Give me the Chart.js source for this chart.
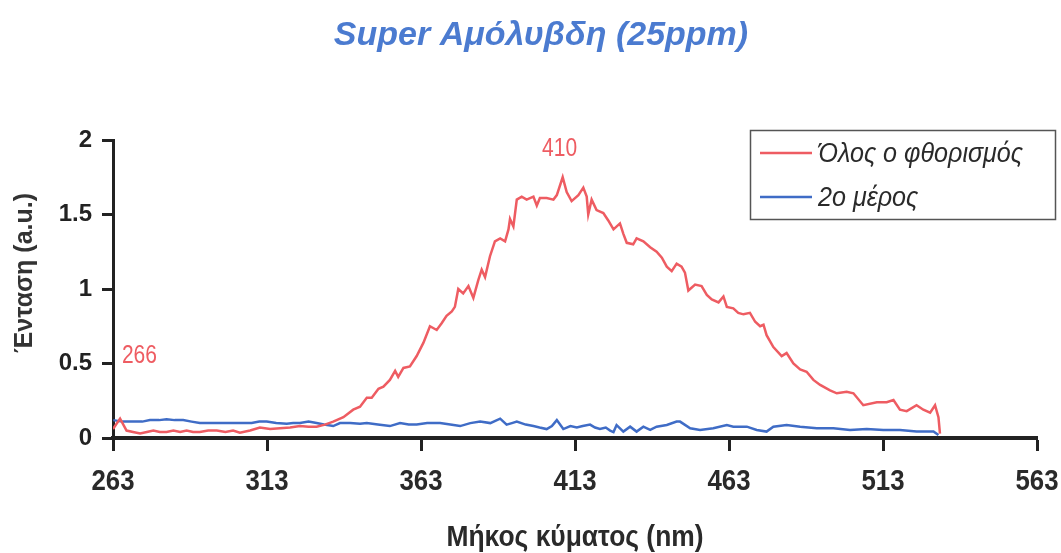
<!DOCTYPE html>
<html><head><meta charset="utf-8">
<script src="https://cdn.jsdelivr.net/npm/chart.js@4"></script>
<style>html,body{margin:0;padding:0;background:#fff}#wrap{width:1061px;height:553px}</style>
</head><body><div id="wrap"><canvas id="c" width="1061" height="553"></canvas></div>
<script>
const titleText = "Super Αμόλυβδη (25ppm)";
const xTitle = "Μήκος κύματος (nm)";
const yTitle = "Ένταση (a.u.)";
const seriesNames = ["Όλος ο φθορισμός", "2ο μέρος"];
const xTicks = [263, 313, 363, 413, 463, 513, 563];
const peakLabels = [{text: "410", x: 408, y: 1.94}, {text: "266", x: 265.9, y: 0.55}];

const fullWl = [263.0,265.3,267.4,269.5,271.8,274.0,276.1,278.2,280.4,282.6,284.8,286.9,289.0,291.2,293.9,296.7,299.5,302.0,304.2,307.5,310.7,314.0,317.2,320.5,323.7,326.5,329.1,331.8,334.5,337.8,341.0,343.2,345.4,347.0,349.2,350.8,352.9,354.6,355.6,357.3,359.4,361.6,363.8,365.9,368.1,369.7,371.3,373.0,374.0,375.1,376.7,378.4,380.0,381.6,382.7,383.8,385.4,387.0,388.7,390.3,391.4,391.9,393.0,394.1,395.7,397.3,399.5,400.6,401.6,403.8,406.0,407.1,409.0,410.3,411.9,414.1,415.7,416.8,417.3,418.4,420.0,422.2,423.8,425.5,427.6,428.7,429.8,431.9,433.0,435.2,437.4,439.5,441.2,442.8,444.4,446.0,447.6,448.7,449.8,452.0,454.1,455.8,457.4,459.6,461.2,462.3,464.4,466.0,467.7,469.8,471.5,473.1,474.2,475.2,477.4,480.1,481.7,483.9,486.1,488.2,490.4,492.6,495.8,498.0,501.2,503.4,506.6,511.0,514.2,516.4,518.5,520.7,523.9,526.1,528.3,529.9,531.0,531.5];
const fullFluor = [0.06,0.13,0.05,0.04,0.03,0.04,0.05,0.04,0.04,0.05,0.04,0.05,0.04,0.04,0.05,0.05,0.04,0.05,0.035,0.05,0.07,0.06,0.065,0.07,0.08,0.075,0.075,0.09,0.11,0.14,0.19,0.21,0.27,0.27,0.33,0.345,0.39,0.45,0.41,0.47,0.48,0.55,0.64,0.75,0.725,0.77,0.82,0.85,0.88,1.00,0.97,1.02,0.94,1.06,1.13,1.08,1.22,1.32,1.34,1.32,1.40,1.47,1.42,1.60,1.62,1.60,1.62,1.56,1.61,1.61,1.60,1.63,1.75,1.65,1.59,1.63,1.68,1.62,1.50,1.60,1.53,1.51,1.46,1.40,1.44,1.37,1.31,1.30,1.34,1.32,1.28,1.25,1.21,1.15,1.12,1.17,1.15,1.11,0.99,1.03,1.02,0.96,0.93,0.91,0.95,0.88,0.87,0.84,0.83,0.84,0.78,0.75,0.76,0.69,0.61,0.55,0.57,0.50,0.46,0.445,0.39,0.356,0.32,0.30,0.31,0.30,0.22,0.24,0.24,0.255,0.19,0.18,0.22,0.19,0.17,0.22,0.14,0.03];

const partWl = [263.1,266.0,269.6,272.5,275.0,278.0,280.4,283.0,285.8,288.5,291.2,294.0,297.0,299.5,302.1,305.0,308.0,310.5,312.9,316.0,319.4,321.5,323.7,326.5,329.1,331.5,334.5,336.7,340.0,343.2,345.4,349.0,352.9,356.2,359.0,361.6,365.0,369.2,372.5,375.7,379.0,382.2,385.5,388.7,390.8,392.5,394.1,397.0,399.5,401.5,403.8,405.5,407.1,409.2,411.5,413.6,415.5,417.9,419.5,421.1,423.0,424.4,425.5,426.5,428.7,430.9,433.0,435.2,437.4,439.5,442.8,446.0,447.1,450.4,453.6,457.9,462.3,464.4,468.8,472.0,475.2,477.4,481.7,486.1,491.5,496.9,502.3,507.7,513.1,518.5,523.9,529.4,531.0];
const secondPart = [0.12,0.11,0.11,0.11,0.12,0.12,0.125,0.12,0.12,0.11,0.10,0.10,0.10,0.10,0.10,0.10,0.10,0.11,0.11,0.10,0.095,0.10,0.10,0.11,0.10,0.09,0.08,0.10,0.10,0.095,0.10,0.09,0.08,0.10,0.09,0.09,0.10,0.10,0.09,0.08,0.10,0.11,0.10,0.13,0.09,0.10,0.11,0.09,0.08,0.07,0.06,0.08,0.12,0.06,0.08,0.07,0.08,0.09,0.07,0.06,0.07,0.05,0.04,0.087,0.043,0.076,0.043,0.076,0.054,0.076,0.087,0.11,0.11,0.065,0.054,0.065,0.087,0.076,0.076,0.054,0.043,0.076,0.087,0.076,0.065,0.065,0.054,0.06,0.054,0.054,0.043,0.043,0.02];

const RED = '#ee5c62', BLUE = '#3f6cc6';
const SANS = '"Liberation Sans", Arial, sans-serif';

function squeezed(ctx, text, x, y, sx, align) {
  ctx.save();
  ctx.translate(x, y);
  ctx.scale(sx, 1);
  ctx.textAlign = align || 'center';
  ctx.fillText(text, 0, 0);
  ctx.restore();
}

const overlay = {
  id: 'overlay',
  afterDraw(chart) {
    const ctx = chart.ctx, ca = chart.chartArea, xs = chart.scales.x, ys = chart.scales.y;
    ctx.save();
    ctx.textBaseline = 'middle';
    ctx.fillStyle = '#4b7bd0';
    ctx.font = 'italic bold 34px ' + SANS;
    ctx.textAlign = 'center';
    ctx.fillText(titleText, 541, 36);
    ctx.fillStyle = '#2a2a2a';
    ctx.font = 'bold 30px ' + SANS;
    xTicks.forEach(v => squeezed(ctx, String(v), xs.getPixelForValue(v), ca.bottom + 44, 0.86));
    squeezed(ctx, xTitle, (ca.left + ca.right) / 2, 538, 0.88);
    ctx.save();
    ctx.translate(25, 273);
    ctx.rotate(-Math.PI / 2);
    ctx.font = 'bold 25px ' + SANS;
    ctx.fillStyle = '#333';
    ctx.textAlign = 'center';
    ctx.fillText(yTitle, 0, 0);
    ctx.restore();
    ctx.fillStyle = RED;
    ctx.font = '25px ' + SANS;
    peakLabels.forEach((p, i) => {
      squeezed(ctx, p.text, xs.getPixelForValue(p.x), ys.getPixelForValue(p.y), 0.84, i === 0 ? 'center' : 'left');
    });
    const bx = ca.right - 287, by = ca.top - 10, bw = 305, bh = 89;
    ctx.strokeStyle = '#555'; ctx.lineWidth = 1.5;
    ctx.strokeRect(bx + 0.5, by + 0.5, bw, bh);
    const cols = [RED, BLUE];
    ctx.font = 'italic 27px ' + SANS;
    chart.data.datasets.forEach((ds, i) => {
      const yy = by + 23 + i * 44;
      ctx.strokeStyle = cols[i]; ctx.lineWidth = 2.5;
      ctx.beginPath(); ctx.moveTo(bx + 10, yy); ctx.lineTo(bx + 62, yy); ctx.stroke();
      ctx.fillStyle = '#2a2a2a';
      squeezed(ctx, ds.label, bx + 68, yy + 1, 0.93, 'left');
    });
    ctx.restore();
  }
};

new Chart(document.getElementById('c'), {
  type: 'line',
  data: {
    datasets: [
      {label: seriesNames[0], data: fullWl.map((w, i) => ({x: w, y: fullFluor[i]})), borderColor: RED, borderWidth: 2.5, pointRadius: 0, tension: 0},
      {label: seriesNames[1], data: partWl.map((w, i) => ({x: w, y: secondPart[i]})), borderColor: BLUE, borderWidth: 2.5, pointRadius: 0, tension: 0}
    ]
  },
  options: {
    responsive: false,
    animation: false,
    devicePixelRatio: 1,
    layout: {padding: {left: 0, right: 24, top: 140, bottom: 0}},
    plugins: {
      legend: {display: false},
      tooltip: {enabled: false},
      title: {display: false}
    },
    scales: {
      x: {
        type: 'linear', min: 263, max: 563,
        afterBuildTicks: s => { s.ticks = xTicks.map(v => ({value: v})); },
        afterFit: s => { s.height = 115; },
        ticks: {display: false},
        grid: {drawOnChartArea: false, drawTicks: true, tickLength: 13, tickWidth: 3, tickColor: '#222'},
        border: {display: true, color: '#222', width: 4}
      },
      y: {
        min: 0, max: 2,
        afterFit: s => { s.width = 113; },
        ticks: {stepSize: 0.5, color: '#222', padding: 10, callback: v => String(v), font: {family: SANS, size: 24, weight: 'bold'}},
        grid: {drawOnChartArea: false, drawTicks: true, tickLength: 11, tickWidth: 3, tickColor: '#222'},
        border: {display: true, color: '#222', width: 3}
      }
    }
  },
  plugins: [overlay]
});
</script>
</body></html>
